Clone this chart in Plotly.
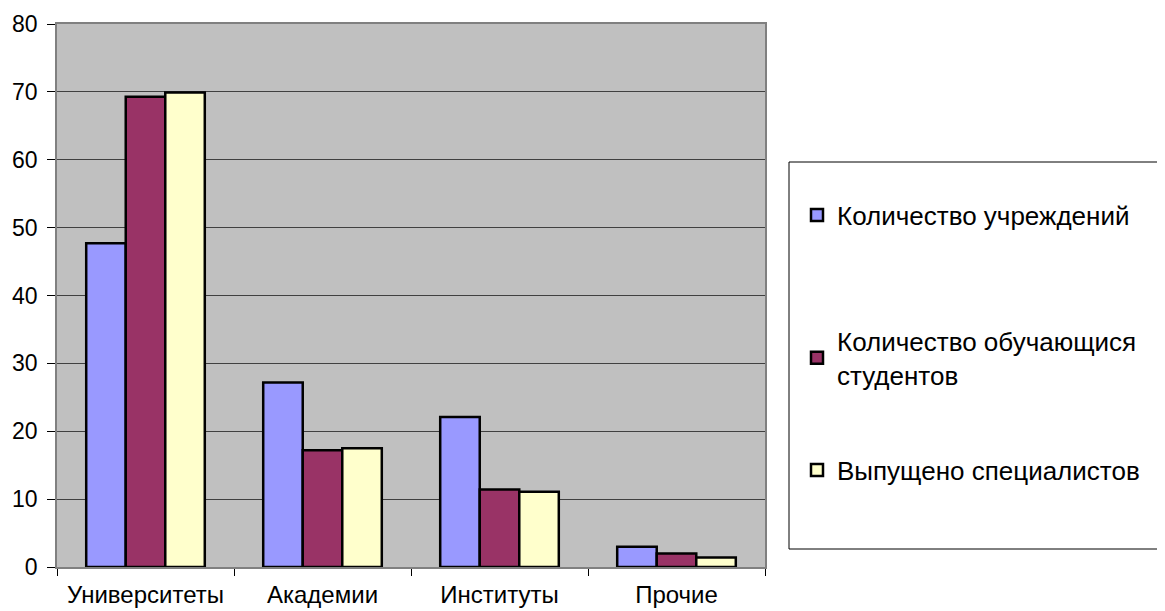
import plotly.graph_objects as go

categories = ["Университеты", "Академии", "Институты", "Прочие"]
series_names = ["Количество учреждений", "Количество обучающися<br>студентов", "Выпущено специалистов"]
institutions = [47.7, 27.2, 22.1, 3.0]
students = [69.3, 17.2, 11.4, 2.0]
graduates = [69.9, 17.5, 11.1, 1.4]
colors = ["#9999FF", "#993366", "#FFFFCC"]
y_ticks = [0, 10, 20, 30, 40, 50, 60, 70, 80]

OFF = 8  # page body margin
W, H = 1165 - OFF, 611 - OFF
# plot area in page pixels
L, R, T, B = 57, 765, 24, 567

fig = go.Figure()
legend_ids = ["legend", "legend2", "legend3"]
for name, vals, col, lg in zip(series_names, [institutions, students, graduates], colors, legend_ids):
    fig.add_trace(go.Bar(
        x=categories, y=vals, name=name, legend=lg,
        marker=dict(color=col, line=dict(color="#000000", width=2.5)),
    ))

yfont = dict(family="Liberation Sans, Arial, sans-serif", size=23, color="#000000")
xfont = dict(family="Liberation Sans, Arial, sans-serif", size=24, color="#000000")
legend_y = [215, 358, 470]

def cy(py):
    return 1 - (py - OFF) / H

def cx(px):
    return (px - OFF) / W

legend_common = dict(
    xref="container", yref="container", xanchor="left", yanchor="middle",
    bgcolor="rgba(0,0,0,0)", borderwidth=0,
    font=dict(family="Liberation Sans, Arial, sans-serif", size=26, color="#000000"),
    itemclick=False, itemdoubleclick=False,
)

def px2paper_x(px):
    return (px - L) / (R - L)

def px2paper_y(py):
    return (B - py) / (B - T)

fig.update_layout(
    width=W, height=H,
    margin=dict(l=L - OFF, r=W + OFF - R, t=T - OFF, b=H + OFF - B, autoexpand=False),
    paper_bgcolor="#FFFFFF", plot_bgcolor="#C0C0C0",
    barmode="group", bargap=0.33, bargroupgap=0,
    font=yfont,
    showlegend=True,
    legend=dict(x=cx(797), y=cy(legend_y[0]), **legend_common),
    legend2=dict(x=cx(797), y=cy(legend_y[1]), **legend_common),
    legend3=dict(x=cx(797), y=cy(legend_y[2]), **legend_common),
    xaxis=dict(
        showgrid=False, showline=True, linecolor="#808080", linewidth=1.5, mirror=True,
        ticks="outside", tickson="boundaries", ticklen=7, tickcolor="#000000",
        tickfont=xfont, fixedrange=True, ticklabelstandoff=5, automargin=False,
    ),
    yaxis=dict(
        range=[0, 80], tickvals=y_ticks, showgrid=True, gridcolor="#404040", gridwidth=1,
        showline=True, linecolor="#808080", linewidth=1.5, mirror=True,
        ticks="outside", ticklen=8, tickcolor="#000000", tickfont=yfont, zeroline=False,
        fixedrange=True, ticklabelstandoff=5, automargin=False,
    ),
    shapes=[dict(
        type="rect", xref="paper", yref="paper",
        x0=px2paper_x(789), x1=px2paper_x(1175), y0=px2paper_y(549), y1=px2paper_y(162),
        line=dict(color="#000000", width=1), fillcolor="rgba(0,0,0,0)",
    )],
)

fig.write_html("out.html")
